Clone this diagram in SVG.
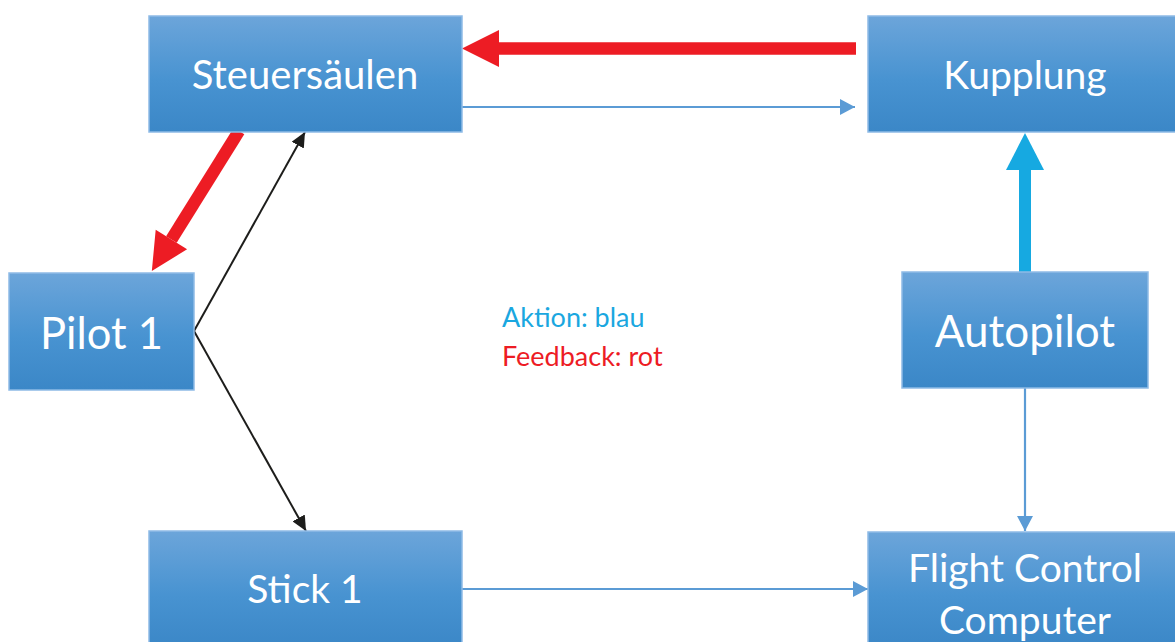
<svg xmlns="http://www.w3.org/2000/svg" width="1175" height="642" viewBox="0 0 1175 642">
  <style>
    .box { fill: url(#boxFill); stroke: #8ebbe6; stroke-width: 1.5; }
    .lbl { font-family: Lato, "Open Sans", sans-serif; fill: #ffffff; text-anchor: middle; }
    .thin { fill: none; stroke: #5b9bd5; stroke-width: 2.2; }
    .black { fill: none; stroke: #1d1d1b; stroke-width: 2; }
    .red { fill: none; stroke: #ed1c24; stroke-width: 12.5; }
    .cyan { fill: none; stroke: #16a9e1; stroke-width: 12; }
    .legend { font-family: Lato, "Open Sans", sans-serif; font-size: 27px; }
  </style>
  <defs>
    <linearGradient id="boxFill" x1="0" y1="0" x2="0" y2="1">
      <stop offset="0" stop-color="#6ca5da"/>
      <stop offset="0.55" stop-color="#4893d1"/>
      <stop offset="1" stop-color="#3b87c7"/>
    </linearGradient>
    <marker id="headBlue" markerUnits="userSpaceOnUse" viewBox="0 0 15 16" refX="15" refY="8" markerWidth="15" markerHeight="16" orient="auto">
      <path d="M0,0 L15,8 L0,16 Z" fill="#5b9bd5"/>
    </marker>
    <marker id="headBlack" markerUnits="userSpaceOnUse" viewBox="0 0 15 14" refX="15" refY="7" markerWidth="15" markerHeight="14" orient="auto">
      <path d="M0,0 L15,7 L0,14 Z" fill="#1d1d1b"/>
    </marker>
    <!-- thick heads start where the shaft ends -->
    <marker id="headRed" markerUnits="userSpaceOnUse" viewBox="0 0 37 37" refX="0" refY="18.5" markerWidth="37" markerHeight="37" orient="auto" overflow="visible">
      <path d="M0,0 L37,18.5 L0,37 Z" fill="#ed1c24"/>
    </marker>
    <marker id="headCyan" markerUnits="userSpaceOnUse" viewBox="0 0 37 38" refX="0" refY="19" markerWidth="37" markerHeight="38" orient="auto" overflow="visible">
      <path d="M0,0 L37,19 L0,38 Z" fill="#16a9e1"/>
    </marker>
  </defs>

  <g id="connectors">
    <line class="red" x1="856" y1="48.5" x2="499" y2="48.5" marker-end="url(#headRed)"/>
    <line class="thin" x1="462" y1="107" x2="855" y2="107" marker-end="url(#headBlue)"/>
    <line class="red" x1="239" y1="131" x2="171.4" y2="239.5" marker-end="url(#headRed)"/>
    <line class="black" x1="194" y1="331" x2="305" y2="132" marker-end="url(#headBlack)"/>
    <line class="black" x1="194" y1="331" x2="306" y2="531" marker-end="url(#headBlack)"/>
    <line class="cyan" x1="1025" y1="272" x2="1025" y2="170" marker-end="url(#headCyan)"/>
    <line class="thin" x1="1025" y1="388" x2="1025" y2="531" marker-end="url(#headBlue)"/>
    <line class="thin" x1="462" y1="589" x2="868" y2="589" marker-end="url(#headBlue)"/>
  </g>

  <g id="steuersaeulen">
    <rect class="box" x="149" y="16" width="313" height="116"/>
    <text class="lbl" x="305" y="89" font-size="40">Steuersäulen</text>
  </g>
  <g id="kupplung">
    <rect class="box" x="868" y="16" width="313" height="116"/>
    <text class="lbl" x="1025" y="89" font-size="39">Kupplung</text>
  </g>
  <g id="pilot1">
    <rect class="box" x="9" y="273" width="185" height="117"/>
    <text class="lbl" x="101.5" y="349" font-size="43.5">Pilot 1</text>
  </g>
  <g id="autopilot">
    <rect class="box" x="902" y="272" width="246" height="116"/>
    <text class="lbl" x="1025" y="347" font-size="44">Autopilot</text>
  </g>
  <g id="stick1">
    <rect class="box" x="149" y="531" width="313" height="116"/>
    <text class="lbl" x="305" y="603" font-size="39">Stick 1</text>
  </g>
  <g id="fcc">
    <rect class="box" x="868" y="532" width="313" height="116"/>
    <text class="lbl" x="1025" y="582" font-size="39">Flight Control</text>
    <text class="lbl" x="1025" y="634" font-size="39">Computer</text>
  </g>

  <g id="legend">
    <text class="legend" x="502" y="327" fill="#1aa7e0">Aktion: blau</text>
    <text class="legend" x="502" y="366" fill="#ed1c24">Feedback: rot</text>
  </g>
</svg>
